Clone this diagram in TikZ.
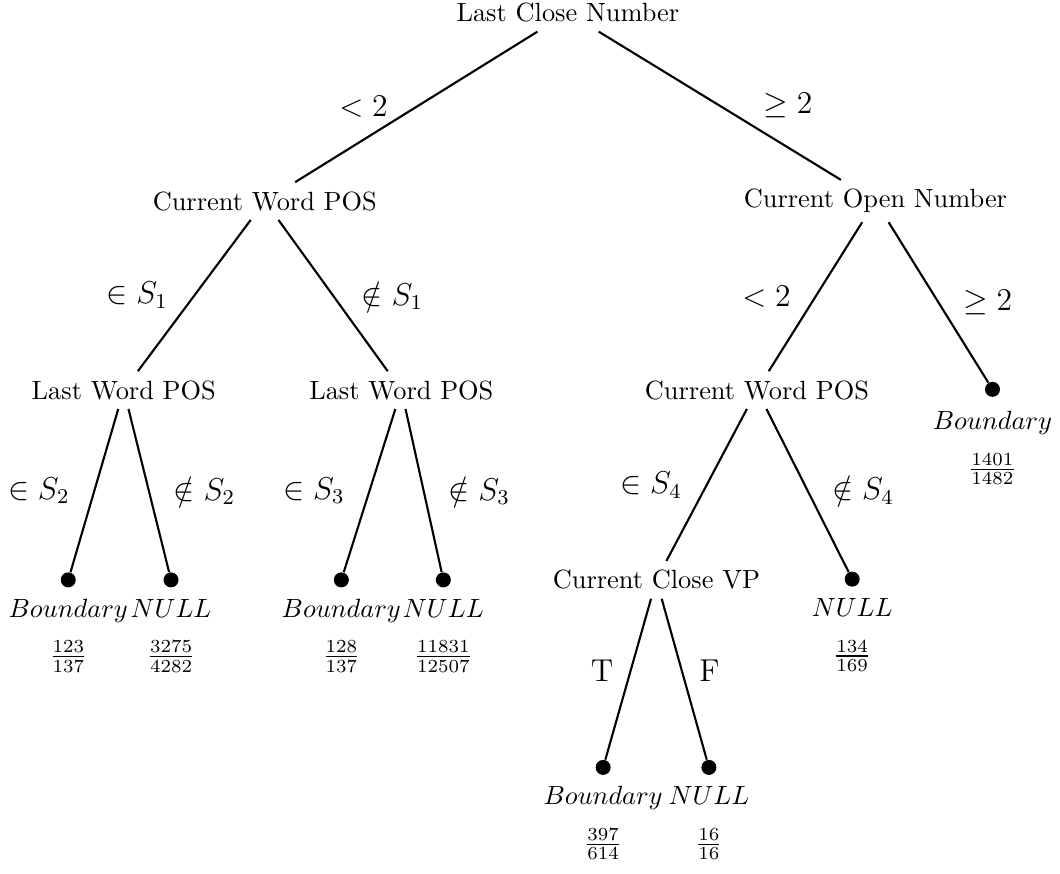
\documentclass[tikz,border=0pt]{standalone}
\usepackage{tikz}
\usetikzlibrary{positioning}
\tikzset{
    treebase/.style={node distance=0.02cm and 0.02cm},
    question/.style={rectangle, align=center},
    leafdot/.style={circle, fill=black, inner sep=0pt, minimum size=0.2cm},
    leafname/.style={rectangle, text height=7pt, text depth=2pt},
    leaffrac/.style={rectangle},
    branch/.style={draw, thick, color=black},
    blabel/.style={font=\large},
}

\begin{document}
\begin{tikzpicture}[treebase]
\useasboundingbox (0,0) rectangle (14.13,-11.64);

% ===================== INNER NODES =====================
\node[question] (t_root) at (7.57, -0.17) {Last Close Number};
\node[question] (l_pos) at (3.53, -2.68) {Current Word POS};
\node[question] (r_open) at (11.67, -2.68) {Current Open Number};
\node[question] (l_last1) at (1.65, -5.20) {Last Word POS};
\node[question] (l_last2) at (5.35, -5.20) {Last Word POS};
\node[question] (r_pos) at (10.09, -5.20) {Current Word POS};
\node[question] (r_vp) at (8.75, -7.73) {Current Close VP};

% ===================== LEAVES =====================
\node[leafdot] (lf_1) at (0.91, -7.73) {};
\node[leafdot] (lf_2) at (2.28, -7.73) {};
\node[leafdot] (lf_3) at (4.55, -7.73) {};
\node[leafdot] (lf_4) at (5.91, -7.73) {};
\node[leafdot] (lf_5) at (11.36, -7.72) {};
\node[leafdot] (lf_6) at (13.23, -5.19) {};
\node[leafdot] (lf_7) at (8.04, -10.23) {};
\node[leafdot] (lf_8) at (9.45, -10.23) {};

\node[leafname, below=of lf_1] (n_1) {$Boundary$};
\node[leafname, below=of lf_2] (n_2) {$NULL$};
\node[leafname, below=of lf_3] (n_3) {$Boundary$};
\node[leafname, below=of lf_4] (n_4) {$NULL$};
\node[leafname, below=of lf_5] (n_5) {$NULL$};
\node[leafname, below=0.06cm of lf_6] (n_6) {$Boundary$};
\node[leafname, below=of lf_7] (n_7) {$Boundary$};
\node[leafname, below=of lf_8] (n_8) {$NULL$};

\node[leaffrac, below=0pt of n_1] (f_1) {$\frac{123}{137}$};
\node[leaffrac, below=0pt of n_2] (f_2) {$\frac{3275}{4282}$};
\node[leaffrac, below=0pt of n_3] (f_3) {$\frac{128}{137}$};
\node[leaffrac, below=0pt of n_4] (f_4) {$\frac{11831}{12507}$};
\node[leaffrac, below=0pt of n_5] (f_5) {$\frac{134}{169}$};
\node[leaffrac, below=0pt of n_6] (f_6) {$\frac{1401}{1482}$};
\node[leaffrac, below=0pt of n_7] (f_7) {$\frac{397}{614}$};
\node[leaffrac, below=0pt of n_8] (f_8) {$\frac{16}{16}$};

% ===================== BRANCHES =====================
\draw[branch] (t_root) -- node[blabel, midway, left=0.25cm]{$<2$} (l_pos);
\draw[branch] (t_root) -- node[blabel, midway, right=0.45cm]{$\geq 2$} (r_open);

\draw[branch] (l_pos) -- node[blabel, midway, left=0.22cm]{$\in S_1$} (l_last1);
\draw[branch] (l_pos) -- node[blabel, midway, right=0.25cm]{$\notin S_1$} (l_last2);

\draw[branch] (l_last1) -- node[blabel, midway, left=0.2cm]{$\in S_2$} (lf_1);
\draw[branch] (l_last1) -- node[blabel, midway, right=0.2cm]{$\notin S_2$} (lf_2);
\draw[branch] (l_last2) -- node[blabel, midway, left=0.2cm]{$\in S_3$} (lf_3);
\draw[branch] (l_last2) -- node[blabel, midway, right=0.2cm]{$\notin S_3$} (lf_4);

\draw[branch] (r_open) -- node[blabel, midway, left=0.2cm]{$<2$} (r_pos);
\draw[branch] (r_open) -- node[blabel, midway, right=0.2cm]{$\geq 2$} (lf_6);

\draw[branch] (r_pos) -- node[blabel, midway, left=0.2cm]{$\in S_4$} (r_vp);
\draw[branch] (r_pos) -- node[blabel, midway, right=0.2cm]{$\notin S_4$} (lf_5);

\draw[branch] (r_vp) -- node[blabel, pos=0.45, left=0.1cm]{T} (lf_7);
\draw[branch] (r_vp) -- node[blabel, pos=0.45, right=0.1cm]{F} (lf_8);

\end{tikzpicture}
\end{document}
